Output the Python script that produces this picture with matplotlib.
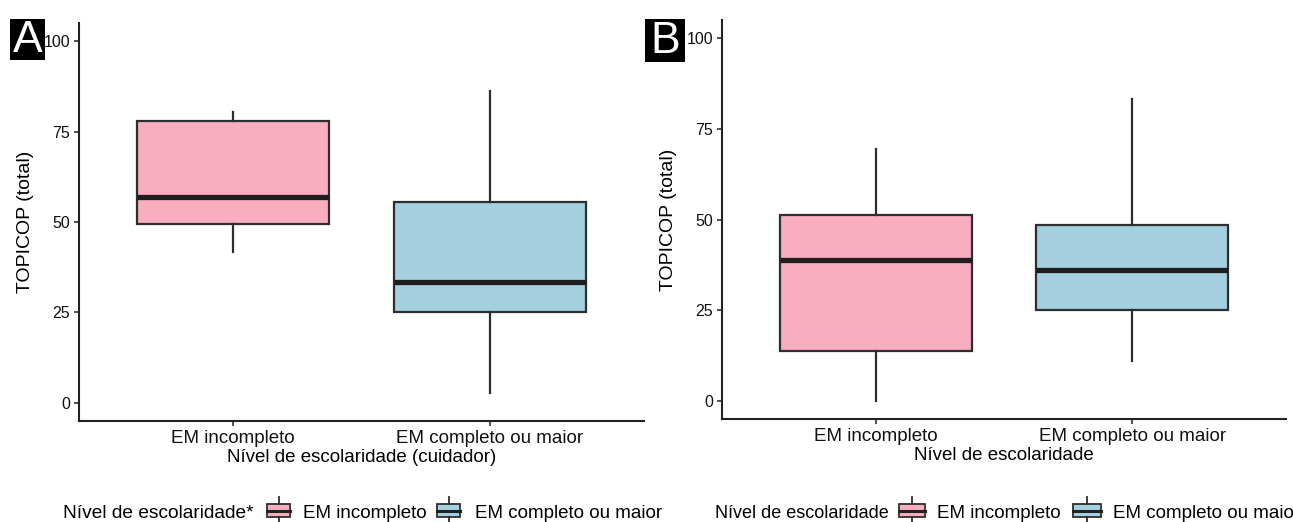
import matplotlib.pyplot as plt
from matplotlib.patches import Rectangle

plt.rcParams['font.family'] = ['Liberation Sans', 'DejaVu Sans']

# categories and box statistics
categories = ['EM incompleto', 'EM completo ou maior']
colors = ['#F8AEC0', '#A4D0E0']

# panel A: Nível de escolaridade (cuidador)
a_whislo = [41.8, 2.8]
a_q1 = [49.4, 25.0]
a_med = [57.0, 33.3]
a_q3 = [77.8, 55.5]
a_whishi = [80.5, 86.1]

# panel B: Nível de escolaridade
b_whislo = [0.0, 11.1]
b_q1 = [13.8, 25.0]
b_med = [38.9, 36.1]
b_q3 = [51.3, 48.6]
b_whishi = [69.3, 83.2]

yticks = [0, 25, 50, 75, 100]

W, H = 1293, 522
fig = plt.figure(figsize=(W / 100, H / 100), dpi=100)
edge = '#2e2e2e'


def px_axes(left, right, top, bottom):
    return fig.add_axes([left / W, 1 - bottom / H, (right - left) / W, (bottom - top) / H])


def draw_panel(ax, whislo, q1, med, q3, whishi, xlabel):
    stats = []
    for i in range(len(categories)):
        stats.append({'whislo': whislo[i], 'q1': q1[i], 'med': med[i],
                      'q3': q3[i], 'whishi': whishi[i], 'fliers': []})
    bp = ax.bxp(stats, positions=[1, 2], widths=0.75, patch_artist=True,
                showcaps=False,
                boxprops=dict(edgecolor=edge, linewidth=1.6),
                medianprops=dict(color='#1e1e1e', linewidth=3.8, solid_capstyle='butt'),
                whiskerprops=dict(color=edge, linewidth=1.6))
    for patch, c in zip(bp['boxes'], colors):
        patch.set_facecolor(c)
    ax.set_xlim(0.4, 2.6)
    ax.set_ylim(-5, 105)
    ax.set_yticks(yticks)
    ax.set_xticks([1, 2])
    ax.set_xticklabels(categories)
    for s in ['top', 'right']:
        ax.spines[s].set_visible(False)
    for s in ['left', 'bottom']:
        ax.spines[s].set_linewidth(1.5)
        ax.spines[s].set_color('#222222')
    ax.tick_params(axis='both', length=3.5, width=1.2, color='#333333',
                   labelcolor='#111111', pad=3)
    ax.tick_params(axis='x', labelsize=13.5)
    ax.tick_params(axis='y', labelsize=11.5)
    ax.set_ylabel('TOPICOP (total)', fontsize=14, labelpad=7)
    ax.set_xlabel(xlabel, fontsize=13.5, labelpad=1.5)


ax_a = px_axes(79, 644, 23, 421)
draw_panel(ax_a, a_whislo, a_q1, a_med, a_q3, a_whishi, 'Nível de escolaridade (cuidador)')
ax_b = px_axes(722, 1286, 20, 419)
draw_panel(ax_b, b_whislo, b_q1, b_med, b_q3, b_whishi, 'Nível de escolaridade')

# overlay in pixel coordinates for panel tags and legends
ov = fig.add_axes([0, 0, 1, 1])
ov.set_xlim(0, W)
ov.set_ylim(H, 0)
ov.axis('off')

for label, x0, y0, w, h in [('A', 10, 19, 35, 41), ('B', 645, 19, 40, 43)]:
    ov.add_patch(Rectangle((x0, y0), w, h, facecolor='black', edgecolor='none'))
    ov.text(x0 + w / 2, y0 + h / 2 + 1, label, color='white', fontsize=32,
            ha='center', va='center')


def legend_key(x0, x1, color):
    xc = (x0 + x1) / 2
    ov.plot([xc, xc], [497, 504], color=edge, lw=1.3)
    ov.plot([xc, xc], [517, 524], color=edge, lw=1.3, clip_on=False)
    ov.add_patch(Rectangle((x0, 504), x1 - x0, 13, facecolor=color, edgecolor=edge, lw=1.3))
    ov.plot([x0, x1], [510.5, 510.5], color='#222222', lw=2.2)


base = 518
ov.text(63, base, 'Nível de escolaridade*', fontsize=13.8, va='baseline', ha='left')
legend_key(267, 290, colors[0])
ov.text(303, base, categories[0], fontsize=13.5, va='baseline', ha='left')
legend_key(437, 460, colors[1])
ov.text(475, base, categories[1], fontsize=13.5, va='baseline', ha='left')

ov.text(715, base, 'Nível de escolaridade', fontsize=13, va='baseline', ha='left')
legend_key(899, 925, colors[0])
ov.text(937, base, categories[0], fontsize=13.5, va='baseline', ha='left')
legend_key(1073, 1101, colors[1])
ov.text(1113, base, categories[1], fontsize=13.5, va='baseline', ha='left')

fig.savefig('out.png', dpi=100)
